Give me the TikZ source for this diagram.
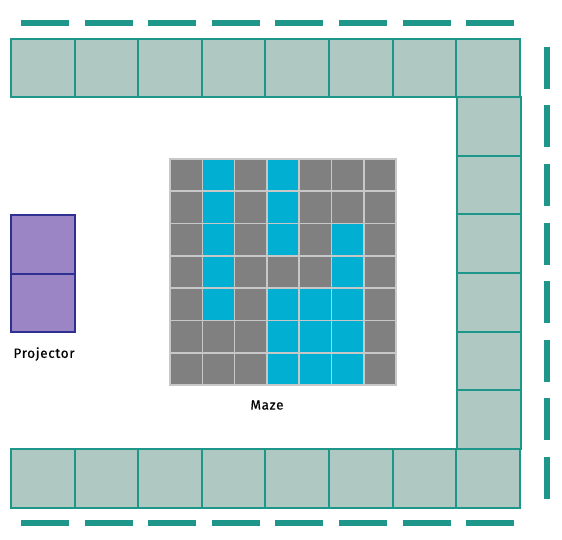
\documentclass[tikz,border=0pt]{standalone}
\usepackage{fontspec}
\setmainfont{Fira Sans}
\usepackage{tikz}
\usetikzlibrary{positioning}
\definecolor{RoomEdge}{HTML}{1E968A}
\definecolor{RoomFill}{HTML}{AFC8C2}
\definecolor{ProjEdge}{HTML}{2E3192}
\definecolor{ProjFill}{HTML}{9B85C4}
\definecolor{MazeWall}{HTML}{808080}
\definecolor{MazePath}{HTML}{00AFD1}
\definecolor{MazeGrid}{HTML}{C8C8C8}
\tikzset{
  tile/.style = {
    draw=RoomEdge,
    fill=RoomFill,
    line width=2pt,
    minimum width=63.6pt,
    minimum height=58.5pt,
    inner sep=0pt
  },
  proj/.style = {tile, draw=ProjEdge, fill=ProjFill, minimum width=64pt},
  cell0/.style = {
    draw=MazeGrid,
    fill=MazeWall,
    line width=1.6pt,
    minimum size=32.3pt,
    inner sep=0pt
  },
  cell1/.style = {cell0, fill=MazePath},
  rail/.style = {draw=RoomEdge, line width=6pt, line cap=butt},
  caption/.style = {font=\fontsize{13.5}{15}\selectfont\addfontfeature{FakeBold=0.5,LetterSpace=5}, text=black, inner sep=1pt}
}
\begin{document}
\begin{tikzpicture}[x=1pt,y=-1pt]
  \useasboundingbox (0,0) rectangle (562,540);
  % room border tiles
  \foreach \i in {0,...,7} {
    \node[tile] (top-\i) at ({11+63.6*(\i+0.5)},68.25) {};
    \node[tile] (bot-\i) at ({11+63.6*(\i+0.5)},478.25) {};
  }
  \foreach \j in {1,...,6}
    \node[tile] (side-\j) at (488.8,{39+58.5*(\j+0.5)}) {};

  % dashed rails
  \foreach \i in {0,...,7} {
    \draw[rail] ({21+63.6*\i},23) -- ++(48,0);
    \draw[rail] ({21+63.6*\i},523) -- ++(48,0);
    \draw[rail] (547,{47+58.5*\i}) -- ++(0,42);
  }

  % projector
  \node[proj] (projhigh) at (43,244.25) {};
  \node[proj] (projlow) at (43,302.75) {};
  \node[caption] (projlabel) at (44,354) {Projector};

  % maze
  \foreach \row [count=\r] in {{0,1,0,1,0,0,0},{0,1,0,1,0,0,0},{0,1,0,1,0,1,0},
      {0,1,0,0,0,1,0},{0,1,0,1,1,1,0},{0,0,0,1,1,1,0},{0,0,0,1,1,1,0}}
    \foreach \v [count=\c] in \row
      \node[cell\v] (cell-\r-\c) at ({170+32.3*(\c-0.5)},{159+32.3*(\r-0.5)}) {};
  \node[caption] (mazelabel) at (267,405) {Maze};
\end{tikzpicture}
\end{document}
